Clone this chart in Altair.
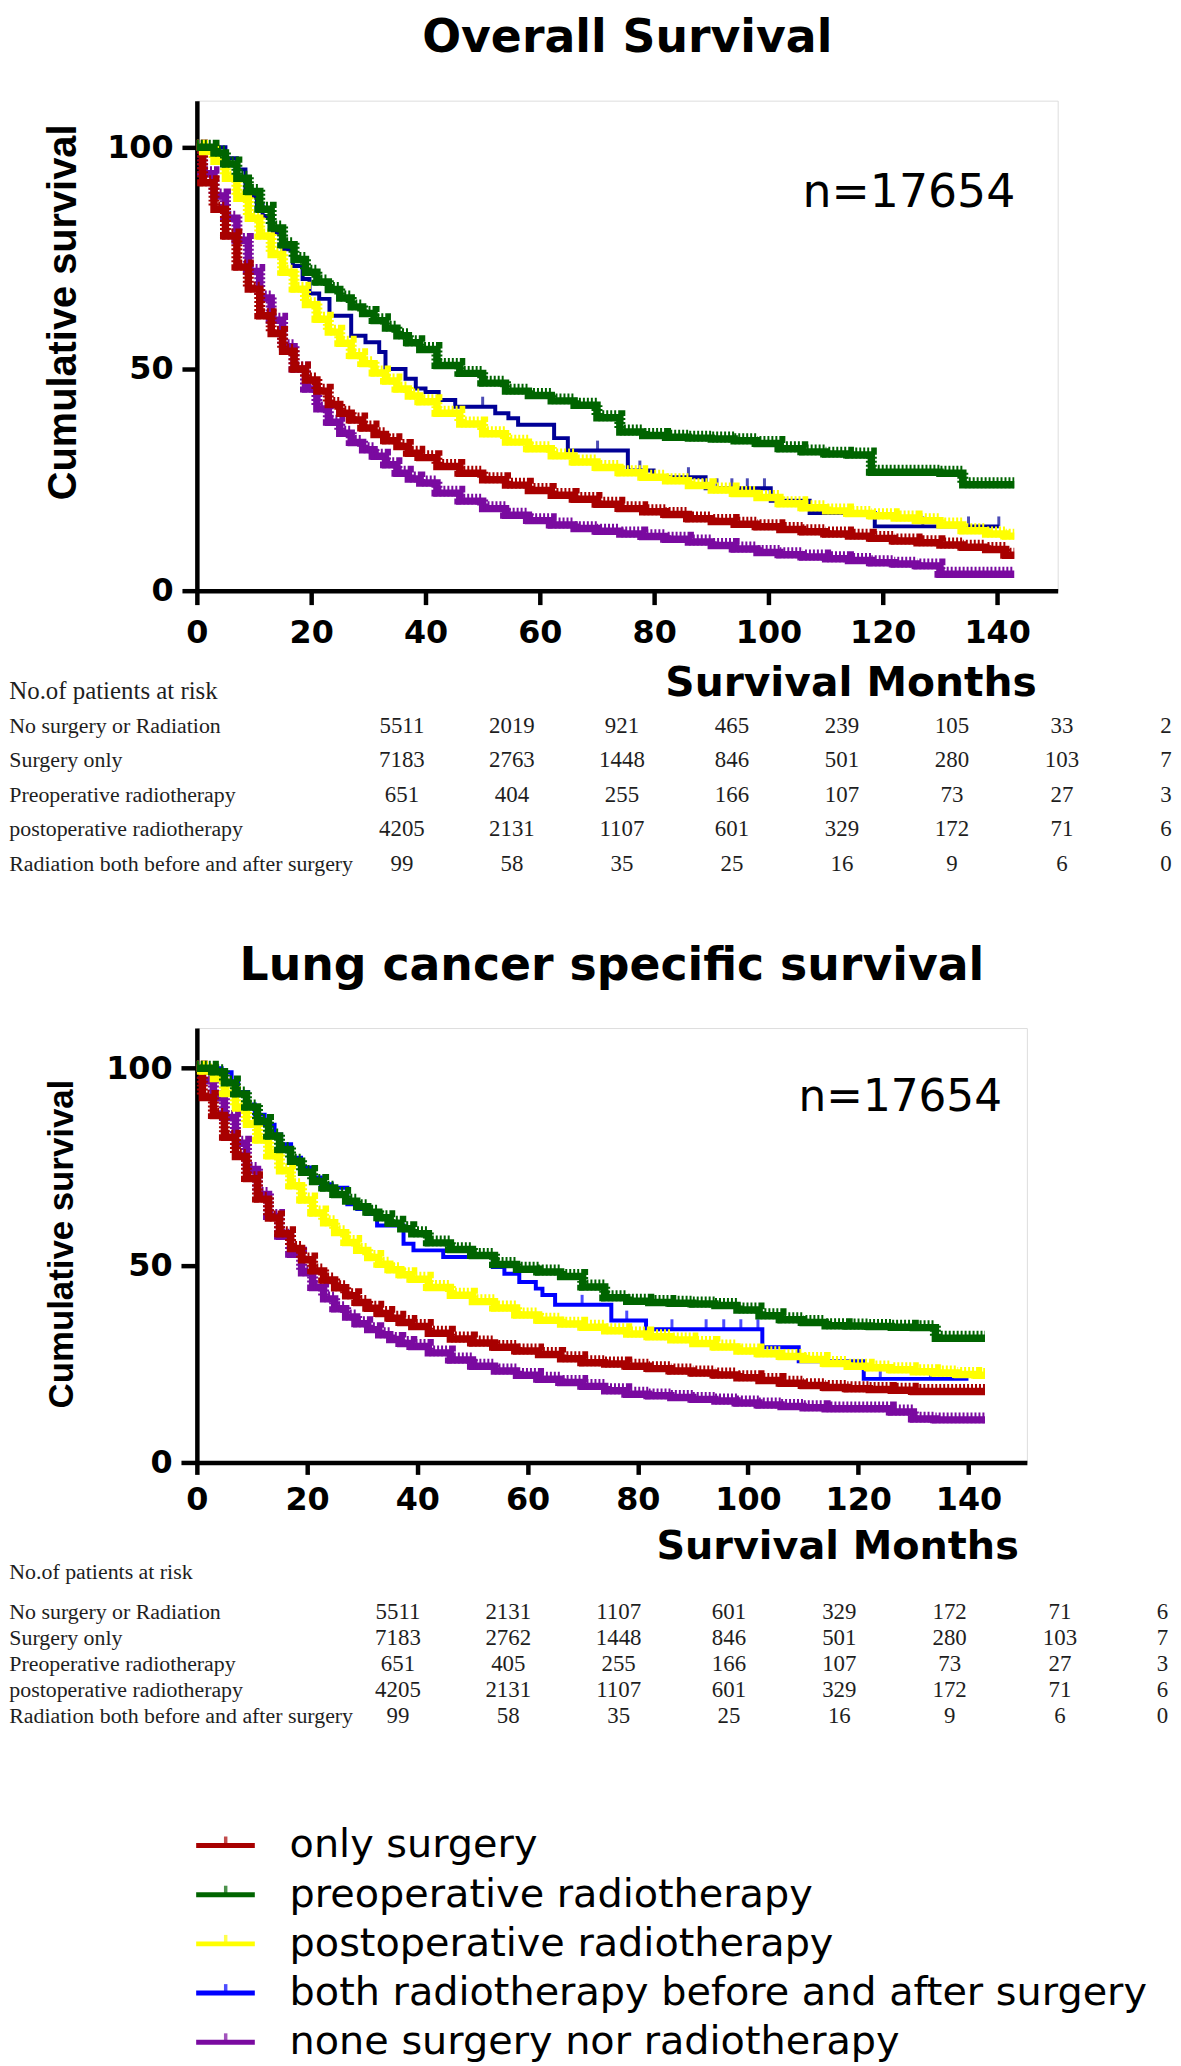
import altair as alt
import pandas as pd

# ---------------- data ----------------
MONTHS = [0, 2, 4, 6, 8, 10, 12, 14, 16, 18, 20, 22, 24, 26, 28, 30, 32, 34, 36, 38, 40,
          44, 48, 52, 56, 60, 64, 68, 72, 76, 80, 84, 88, 92, 96, 100, 104, 108, 112,
          116, 120, 124, 128, 132, 136, 140, 143]

GROUPS = ["only surgery", "preoperative radiotherapy", "postoperative radiotherapy",
          "both radiotherapy before and after surgery", "none surgery nor radiotherapy"]

# Overall survival (%)
OS_ONLY_SURGERY = [100, 92, 86, 80, 73, 68, 62, 58, 54, 50, 47.5, 45, 42, 40, 38.5, 36.7, 35.2, 33.8, 32.5, 31, 30,
                   28, 26.5, 25, 23.8, 22.6, 21.5, 20.6, 19.5, 18.5, 17.8, 17.2, 16.2, 15.6, 15, 14.4, 13.8,
                   13.3, 12.8, 12.3, 11.8, 11.2, 10.8, 10.3, 9.8, 9.3, 8]
OS_PREOP = [100, 100, 98.7, 96.2, 93, 90, 86, 81.8, 78, 74.7, 71.8, 69.6, 67.9, 66, 64, 62.5, 60.9, 59.2, 57.5, 55.9, 54.4,
            50.8, 49, 46.8, 45, 44, 42.8, 41.8, 39, 35.8, 35, 34.6, 34.4, 34.2, 33.8, 33.2, 32, 31.3, 30.8, 30.6,
            26.7, 26.7, 26.7, 26.5, 23.9, 23.9, 23.9]
OS_POSTOP = [100, 99, 96.8, 93, 88.5, 84, 80, 75.8, 71.8, 68, 64.5, 61.2, 58.3, 55.8, 53, 51.2, 49.1, 47.3, 45.5, 43.9, 42.6,
             40, 37.6, 35.4, 33.5, 32, 30.4, 29, 27.8, 26.6, 25.6, 24.8, 23.7, 22.7, 21.9, 21, 19.6, 18.7, 18, 17.4,
             16.9, 16.4, 15.8, 14.8, 13.5, 12.8, 12.3]
OS_NONE = [100, 94, 89, 84, 79, 72, 66, 61, 55, 50, 45.5, 41, 38, 35.5, 33.4, 31.8, 30.3, 28.4, 26.5, 25.2, 24.3,
           22, 20.2, 18.5, 17, 15.8, 14.8, 14, 13.4, 12.8, 12.2, 11.6, 11, 10.2, 9.4, 8.6, 8.1, 7.6, 7.2, 6.8,
           6.3, 6, 5.6, 3.7, 3.7, 3.7, 3.7]
OS_BOTH_T = [0, 3.5, 5, 7, 8.5, 10.5, 11.5, 13.3, 15, 16.8, 18.5, 19.7, 21.4, 23.2, 27, 29.5, 31.9, 33, 36.5, 38.3,
             40, 42.3, 45.2, 52.2, 54.5, 56.2, 62.5, 64.9, 75.4, 79.9, 89, 100.4, 107.2, 118.6, 140.3]
OS_BOTH_V = [100, 100, 97.5, 95, 89, 87, 84.5, 80.7, 77, 73.2, 70.3, 67, 65.8, 62, 57.5, 56, 53.8, 50, 47.8, 45.6,
             44.8, 43, 41.5, 40, 38.9, 37.4, 34.4, 31.6, 27.1, 25.6, 23.1, 20.3, 17.5, 14.5, 14.5]
OS_BOTH_CENS_T = [50, 70.1, 77.5, 86, 91, 93.6, 96.3, 99.3, 127, 135, 140.3]
OS_BOTH_CENS_V = [41.5, 31.6, 27.1, 25.6, 23.1, 23.1, 23.1, 23.1, 14.5, 14.5, 14.5]

# Lung cancer specific survival (%)
CSS_ONLY_SURGERY = [100, 92.6, 88, 82.5, 77.6, 72, 66.8, 62, 58, 54.3, 51.4, 48.6, 46.3, 44.3, 42.3, 40.6, 39.1, 37.8, 36.6, 35.5, 34.5,
                    32.8, 31.3, 30.3, 29.2, 28.3, 27.4, 26.3, 25.3, 25, 24.4, 23.8, 23.2, 22.7, 22.2, 21.5, 20.8,
                    20.1, 19.5, 19, 18.7, 18.5, 18.3, 18, 18, 18, 18]
CSS_PREOP = [100, 100, 99.1, 96.3, 93.5, 90.2, 86.5, 82.8, 79.4, 76.4, 73.6, 71.3, 69.6, 68, 66.3, 64.9, 63.5, 62.1, 60.7, 59.3, 58,
             55.7, 54, 52.5, 50.2, 49, 48.3, 47.2, 44.5, 41.8, 40.9, 40.6, 40.4, 40.2, 39.8, 38.7, 37.2, 36.2, 35.5,
             34.7, 34.6, 34.5, 34.3, 34.2, 31.5, 31.5, 31.5]
CSS_POSTOP = [100, 99.3, 97.4, 93.6, 89.9, 85.8, 81.8, 77.8, 74, 70.2, 66.6, 63.3, 60.8, 58.3, 55.8, 53.8, 52, 50.3, 48.9, 47.6, 46.5,
              44.4, 42.4, 40.8, 39.2, 37.4, 36.1, 35.1, 34.3, 33.4, 32.6, 31.9, 31.1, 30.2, 29.3, 28.3, 27.6, 26.9,
              26.1, 25.1, 24.4, 24, 23.5, 23, 22.7, 22.3, 22.1]
CSS_NONE = [100, 96.8, 92.5, 87.5, 81, 74.3, 68, 62.4, 57.4, 52.8, 48.1, 44.4, 41.5, 39, 36.9, 35.2, 33.7, 32.4, 31.2, 30.2, 29.4,
            27.8, 26, 24.4, 23.2, 22.1, 21.1, 20.3, 19.3, 18.2, 17.3, 16.9, 16.5, 16, 15.6, 15.1, 14.6, 14.2, 13.9,
            13.6, 13.6, 13.6, 12.8, 11, 10.8, 10.8, 10.8]
CSS_BOTH_T = [0, 4.5, 6.3, 7.5, 9.3, 10.5, 12.3, 14.1, 15.3, 17.1, 18.9, 20.7, 22.5, 24.5, 27.3, 29.1, 30.9, 32.7, 37.5,
              39.3, 44.7, 53.7, 55.8, 58.5, 61.5, 62.7, 65, 75.2, 81.5, 102.6, 109.2, 121, 140]
CSS_BOTH_V = [100, 99, 96.6, 94, 90.8, 88.2, 85.7, 83.2, 80.7, 77.3, 74.8, 72.3, 70.6, 69.7, 65.5, 64.3, 63, 60.1, 55.5,
              53.8, 52.1, 49.6, 47.9, 45.8, 44.1, 42.5, 40, 36, 33.8, 29.2, 25.7, 21.2, 21.2]
CSS_BOTH_CENS_T = [50.1, 69.9, 78, 86.2, 92.4, 95.6, 98.7, 101.8, 124, 133.1]
CSS_BOTH_CENS_V = [52.1, 40, 36, 33.8, 33.8, 33.8, 33.8, 33.8, 21.2, 21.2]

RISK_HEADER = "No.of patients at risk"
RISK_ROW_LABELS = ["No surgery or Radiation", "Surgery only", "Preoperative radiotherapy",
                   "postoperative radiotherapy", "Radiation both before and after surgery"]
RISK_OS = [[5511, 2019, 921, 465, 239, 105, 33],
           [7183, 2763, 1448, 846, 501, 280, 103],
           [651, 404, 255, 166, 107, 73, 27],
           [4205, 2131, 1107, 601, 329, 172, 71],
           [99, 58, 35, 25, 16, 9, 6]]
RISK_OS_LAST = ["2", "7", "3", "6", "0"]      # last column is cut by the image edge
RISK_CSS = [[5511, 2131, 1107, 601, 329, 172, 71],
            [7183, 2762, 1448, 846, 501, 280, 103],
            [651, 405, 255, 166, 107, 73, 27],
            [4205, 2131, 1107, 601, 329, 172, 71],
            [99, 58, 35, 25, 16, 9, 6]]
RISK_CSS_LAST = ["6", "7", "3", "6", "0"]

TITLE_OS = "Overall Survival"
TITLE_CSS = "Lung cancer specific survival"
N_LABEL = "n=17654"
Y_TITLE = "Cumulative survival"
X_TITLE = "Survival Months"

# ---------------- styles ----------------
RED = "#a80000"
GREEN = "#006400"
YELLOW = "#ffff00"
NAVY = "#000096"
BLUE = "#0000ff"
PURPLE = "#7a0aa0"
TABLE_INK = "#1e1e1e"


def axis_x(tick_size, pad):
    return alt.Axis(values=list(range(0, 141, 20)), title=None, grid=False,
                    labelFont="DejaVu Sans", labelFontWeight="bold", labelFontSize=32,
                    labelColor="black", labelPadding=pad, tickSize=tick_size, tickWidth=4.5,
                    tickColor="black", domainColor="black", domainWidth=4.5,
                    labelFlush=False, labelOverlap=False)


def axis_y(tick_size, pad):
    return alt.Axis(values=[0, 50, 100], title=None, grid=False,
                    labelFont="DejaVu Sans", labelFontWeight="bold", labelFontSize=32,
                    labelColor="black", labelPadding=pad, tickSize=tick_size, tickWidth=4.5,
                    tickColor="black", domainColor="black", domainWidth=4.5,
                    labelFlush=False, labelOverlap=False)


def km_group(dense, both_t, both_v, cens_t, cens_v, both_color, ax, ay, ydom):
    X = alt.X("t:Q", scale=alt.Scale(domain=[0, 150.6], nice=False, zero=False), axis=ax)
    Y = alt.Y("v:Q", scale=alt.Scale(domain=[0, ydom], nice=False, zero=False), axis=ay)
    layers = []
    both_df = pd.DataFrame({"t": both_t, "v": both_v})
    cens_df = pd.DataFrame({"t": cens_t, "v": cens_v})
    layers.append(alt.Chart(both_df).mark_line(interpolate="step-after", strokeWidth=4,
                                               color=both_color).encode(x=X, y=Y))
    layers.append(alt.Chart(cens_df).mark_tick(orient="vertical", size=10, thickness=3,
                                               yOffset=-5, color=both_color).encode(x=X, y=Y))
    for values, color in dense:
        df = pd.DataFrame({"t": MONTHS, "v": values})
        layers.append(alt.Chart(df).mark_line(interpolate="step", strokeWidth=7.5,
                                              color=color).encode(x=X, y=Y))
        layers.append(alt.Chart(df).mark_line(interpolate="step", strokeWidth=11,
                                              strokeDash=[2, 2], yOffset=-2,
                                              color=color).encode(x=X, y=Y))
    return alt.layer(*layers)


def text_layer(label, x, y, font, size, weight="normal", align="left",
               baseline="alphabetic", angle=None, color="black"):
    df = pd.DataFrame({"label": [label]})
    kw = dict(align=align, baseline=baseline, font=font, fontSize=size,
              fontWeight=weight, color=color)
    if angle is not None:
        kw["angle"] = angle
    return alt.Chart(df).mark_text(**kw).encode(x=alt.value(x), y=alt.value(y), text="label:N")


def table_group(rows, last, col_range, row_range, last_dx, label_x):
    recs = []
    for r, vals in enumerate(rows):
        for c, v in enumerate(vals):
            recs.append({"r": r, "c": c, "val": str(v)})
    df = pd.DataFrame(recs)
    last_df = pd.DataFrame({"r": list(range(5)), "c": [7] * 5, "val": last})
    lab_df = pd.DataFrame({"r": list(range(5)), "label": RISK_ROW_LABELS})
    xs = alt.X("c:O", scale=alt.Scale(type="point", domain=list(range(8)), range=col_range,
                                      padding=0), axis=None)
    ys = alt.Y("r:O", scale=alt.Scale(type="point", domain=list(range(5)), range=row_range,
                                      padding=0), axis=None)
    nums = alt.Chart(df).mark_text(font="Liberation Serif", fontSize=23, color=TABLE_INK,
                                   align="center", baseline="middle").encode(x=xs, y=ys, text="val:N")
    lastc = alt.Chart(last_df).mark_text(font="Liberation Serif", fontSize=23, color=TABLE_INK,
                                         align="center", baseline="middle", dx=last_dx
                                         ).encode(x=xs, y=ys, text="val:N")
    labs = alt.Chart(lab_df).mark_text(font="Liberation Serif", fontSize=22, color=TABLE_INK,
                                       align="left", baseline="middle"
                                       ).encode(x=alt.value(label_x), y=ys, text="label:N")
    return alt.layer(nums, lastc, labs)


LABEL_X = -188.7

# ---------------- top panel: overall survival ----------------
km_top = km_group([(OS_NONE, PURPLE), (OS_ONLY_SURGERY, RED), (OS_POSTOP, YELLOW), (OS_PREOP, GREEN)],
                  OS_BOTH_T, OS_BOTH_V, OS_BOTH_CENS_T, OS_BOTH_CENS_V, NAVY,
                  axis_x(14, 13), axis_y(15, 9), 110.5)
tab_top = table_group(RISK_OS, RISK_OS_LAST, [206.3, 981], [629, 768], -6, LABEL_X)
top = alt.layer(
    km_top, tab_top,
    text_layer(TITLE_OS, 433, -49.2, "DejaVu Sans", 46, "bold", align="center"),
    text_layer(N_LABEL, 609.3, 107, "DejaVu Sans", 46),
    text_layer(Y_TITLE, -121.7, 213, "Liberation Sans", 40, "bold", align="center", angle=270),
    text_layer(X_TITLE, 471.3, 599, "DejaVu Sans", 41, "bold"),
    text_layer(RISK_HEADER, LABEL_X, 594, "Liberation Serif", 25, baseline="middle", color=TABLE_INK),
).resolve_scale(x="independent", y="independent").properties(width=866, height=493)

# ---------------- bottom panel: lung cancer specific survival ----------------
km_bot = km_group([(CSS_NONE, PURPLE), (CSS_ONLY_SURGERY, RED), (CSS_POSTOP, YELLOW), (CSS_PREOP, GREEN)],
                  CSS_BOTH_T, CSS_BOTH_V, CSS_BOTH_CENS_T, CSS_BOTH_CENS_V, BLUE,
                  axis_x(12, 10), axis_y(16, 9), 110.2)
tab_bot = table_group(RISK_CSS, RISK_CSS_LAST, [202.3, 979.3], [587.3, 692.3], -8, LABEL_X)

leg_df = pd.DataFrame({"r": list(range(5)), "label": GROUPS})
ly = alt.Y("r:O", scale=alt.Scale(type="point", domain=list(range(5)), range=[822.3, 1020.3],
                                  padding=0), axis=None)
lc = alt.Color("label:N", scale=alt.Scale(domain=GROUPS, range=[RED, GREEN, YELLOW, BLUE, PURPLE]),
               legend=None)
legend = alt.layer(
    alt.Chart(leg_df).mark_rule(strokeWidth=5).encode(x=alt.value(-0.7), x2=alt.value(58.3), y=ly, color=lc),
    alt.Chart(leg_df).mark_tick(orient="vertical", thickness=3.5, size=9, yOffset=-4.5
                                ).encode(x=alt.value(29), y=ly, color=lc),
    alt.Chart(leg_df).mark_text(align="left", baseline="middle", font="DejaVu Sans", fontSize=40,
                                color="black").encode(x=alt.value(93.3), y=ly, text="label:N"),
)

bottom = alt.layer(
    km_bot, tab_bot, legend,
    text_layer(TITLE_CSS, 417.5, -48.7, "DejaVu Sans", 46, "bold", align="center"),
    text_layer(N_LABEL, 605.3, 83.3, "DejaVu Sans", 44),
    text_layer(Y_TITLE, -124.7, 217.3, "Liberation Sans", 35, "bold", align="center", angle=270),
    text_layer(X_TITLE, 462.3, 534, "DejaVu Sans", 40, "bold"),
    text_layer(RISK_HEADER, LABEL_X, 547.3, "Liberation Serif", 22, baseline="middle", color=TABLE_INK),
).resolve_scale(x="independent", y="independent", color="independent").properties(width=835, height=437)

chart = alt.vconcat(top, bottom, spacing=65).properties(
    padding={"top": 0, "left": 0, "right": 0, "bottom": 0}
).configure_view(stroke=None).configure(background="white")

chart.save("out.html", embed_options={"renderer": "svg", "actions": False})
